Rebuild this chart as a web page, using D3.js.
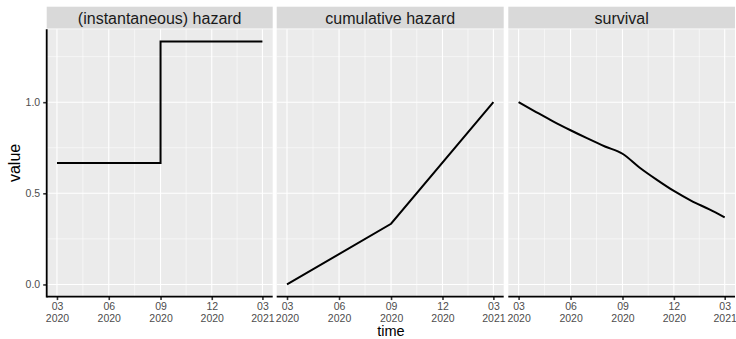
<!DOCTYPE html>
<html>
<head>
<meta charset="utf-8">
<script src="https://cdn.jsdelivr.net/npm/d3@7"></script>
<style>
body{margin:0;background:#fff;}
svg{display:block;font-family:"Liberation Sans",Arial,sans-serif;}
</style>
</head>
<body>
<svg id="chart" width="736" height="339"></svg>
<script>
///-------------------- données
var facettes = ["(instantaneous) hazard","cumulative hazard","survival"];
// hazard : en escalier
var hazDates = ["2020-03-01","2020-09-01","2020-09-01","2021-03-01"];
var hazVals = [0.667,0.667,1.333,1.333];
// cumulative hazard
var cumDates = ["2020-03-01","2020-09-01","2021-03-01"];
var cumVals = [0,0.333,1.0];
// survival (mensuel)
var survDates = ["2020-03-01","2020-04-01","2020-05-01","2020-06-01","2020-07-01","2020-08-01","2020-09-01",
	"2020-10-01","2020-11-01","2020-12-01","2021-01-01","2021-02-01","2021-03-01"];
var survVals = [1.0,0.946,0.895,0.846,0.801,0.757,0.717,0.642,0.574,0.513,0.459,0.413,0.368];
var xTicks = ["2020-03-01","2020-06-01","2020-09-01","2020-12-01","2021-03-01"];
var yTicks = [0,0.5,1.0];
var yMinor = [0.25,0.75,1.25];

///-------------------- géométrie
var panels = [[46.7,272.7],[276.7,503.7],[508.3,735]],
	yTop = 29.3,
	yBot = 296.6,
	stripTop = 6.7;

var parse = d3.timeParse("%Y-%m-%d");
var series = [
	d3.zip(hazDates,hazVals),
	d3.zip(cumDates,cumVals),
	d3.zip(survDates,survVals)
];
var courbes = [d3.curveLinear,d3.curveLinear,d3.curveMonotoneX];

var svg = d3.select("#chart");
var tmin = parse("2020-03-01"), tmax = parse("2021-03-01");
var span = tmax - tmin;

var y = d3.scaleLinear()
	.domain([0-1.3333*0.05, 1.3333*1.05])
	.range([yBot,yTop]);

for(var i=0;i<3;i++){
	var p = panels[i];
	var x = d3.scaleTime()
		.domain([new Date(+tmin-span*0.05), new Date(+tmax+span*0.05)])
		.range([p[0],p[1]]);
	var g = svg.append("g");

	// fond
	g.append("rect")
		.attr("x",p[0]).attr("y",yTop)
		.attr("width",p[1]-p[0]).attr("height",yBot-yTop)
		.attr("fill","#ebebeb");

	// bandeau
	g.append("rect")
		.attr("x",p[0]).attr("y",stripTop)
		.attr("width",p[1]-p[0]).attr("height",yTop-stripTop-0.8)
		.attr("fill","#d9d9d9");
	g.append("text")
		.text(facettes[i])
		.attr("x",(p[0]+p[1])/2)
		.attr("y",23.6)
		.attr("text-anchor","middle")
		.attr("font-size",16)
		.attr("fill","#1a1a1a");

	// grille mineure
	var xt = xTicks.map(parse);
	var xMin = [];
	for(var k=0;k<xt.length-1;k++){
		xMin.push(new Date((+xt[k]+ +xt[k+1])/2));
	}
	g.selectAll(".vmin").data(xMin).enter().append("line")
		.attr("x1",function(d){return x(d);}).attr("x2",function(d){return x(d);})
		.attr("y1",yTop).attr("y2",yBot)
		.attr("stroke","#fff").attr("stroke-width",0.55);
	g.selectAll(".hmin").data(yMinor).enter().append("line")
		.attr("x1",p[0]).attr("x2",p[1])
		.attr("y1",function(d){return y(d);}).attr("y2",function(d){return y(d);})
		.attr("stroke","#fff").attr("stroke-width",0.55);
	// grille majeure
	g.selectAll(".vmaj").data(xt).enter().append("line")
		.attr("x1",function(d){return x(d);}).attr("x2",function(d){return x(d);})
		.attr("y1",yTop).attr("y2",yBot)
		.attr("stroke","#fff").attr("stroke-width",1.1);
	g.selectAll(".hmaj").data(yTicks).enter().append("line")
		.attr("x1",p[0]).attr("x2",p[1])
		.attr("y1",function(d){return y(d);}).attr("y2",function(d){return y(d);})
		.attr("stroke","#fff").attr("stroke-width",1.1);

	// courbe
	var line = d3.line()
		.curve(courbes[i])
		.x(function(d){return x(parse(d[0]));})
		.y(function(d){return y(d[1]);});
	g.append("path")
		.attr("d",line(series[i]))
		.attr("fill","none")
		.attr("stroke","#000")
		.attr("stroke-width",2);

	// axe x
	var ax = g.append("g").attr("transform","translate(0,"+yBot+")");
	ax.call(d3.axisBottom(x).tickValues(xt).tickSize(3.5).tickFormat(""));
	ax.select(".domain").remove();
	ax.selectAll(".tick line").attr("stroke","#333").attr("stroke-width",1.6);
	ax.selectAll(".tick").each(function(d){
		var t = d3.select(this).append("text")
			.attr("text-anchor","middle")
			.attr("fill","#4d4d4d")
			.attr("font-size",10.5);
		t.append("tspan").attr("x",0).attr("y",13.5).text(d3.timeFormat("%m")(d));
		t.append("tspan").attr("x",0).attr("y",25).text(d3.timeFormat("%Y")(d));
	});
	g.append("line")
		.attr("x1",p[0]).attr("x2",p[1])
		.attr("y1",yBot).attr("y2",yBot)
		.attr("stroke","#000").attr("stroke-width",1.8);

	// axe y (premier panneau)
	if(i==0){
		var ay = g.append("g").attr("transform","translate("+p[0]+",0)");
		ay.call(d3.axisLeft(y).tickValues(yTicks).tickSize(3.5).tickFormat(d3.format(".1f")));
		ay.select(".domain").remove();
		ay.selectAll(".tick line").attr("stroke","#333").attr("stroke-width",1.6);
		ay.selectAll(".tick text")
			.attr("x",-6.5)
			.attr("fill","#4d4d4d")
			.attr("font-size",10.5)
			.attr("font-family","Liberation Sans, Arial, sans-serif");
		g.append("line")
			.attr("x1",p[0]).attr("x2",p[0])
			.attr("y1",yTop).attr("y2",yBot+0.9)
			.attr("stroke","#000").attr("stroke-width",1.8);
	}
}

// titres des axes
svg.append("text")
	.text("time")
	.attr("x",(panels[0][0]+panels[2][1])/2)
	.attr("y",336)
	.attr("text-anchor","middle")
	.attr("font-size",14.5)
	.attr("fill","#000");
svg.append("text")
	.text("value")
	.attr("transform","translate(20,"+((yTop+yBot)/2)+") rotate(-90)")
	.attr("text-anchor","middle")
	.attr("font-size",16)
	.attr("fill","#000");
</script>
</body>
</html>
